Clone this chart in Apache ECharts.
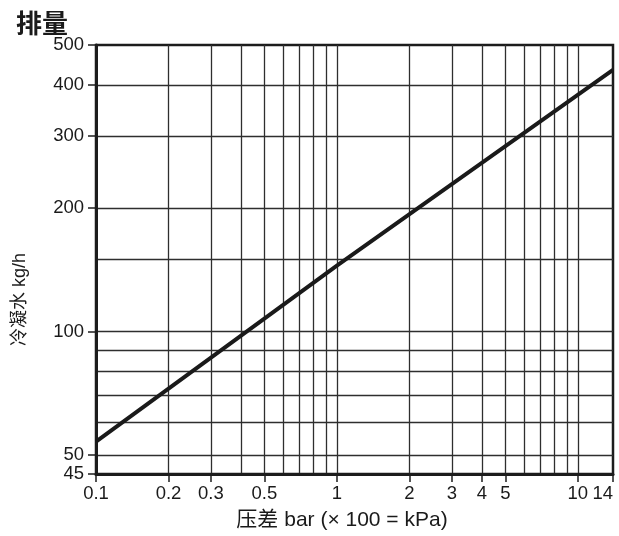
<!DOCTYPE html>
<html>
<head>
<meta charset="utf-8">
<script src="https://cdn.jsdelivr.net/npm/echarts@6/dist/echarts.min.js"></script>
<style>html,body{margin:0;padding:0;background:#fff}#c{width:619px;height:536px}</style>
</head>
<body>
<div id="c"></div>
<script>
// Data
const pressureBar = [0.1, 1, 14];
const condensateKgH = [54, 145, 435];
const xLabelValues = [0.1, 0.2, 0.3, 0.5, 1, 2, 3, 4, 5, 10, 14];
const xGridValues = [0.2, 0.3, 0.4, 0.5, 0.6, 0.7, 0.8, 0.9, 1, 2, 3, 4, 5, 6, 7, 8, 9, 10];
const yLabelValues = [45, 50, 100, 200, 300, 400, 500];
const yGridValues = [50, 60, 70, 80, 90, 100, 150, 200, 300, 400];
const titleText = '排量';
const yName = '冷凝水 kg/h';
const xName = '压差 bar (× 100 = kPa)';

const FONT = '"Liberation Sans", "Noto Sans CJK SC", sans-serif';
const fmt = v => String(+(+v).toPrecision(6));
const chart = echarts.init(document.getElementById('c'), null, {renderer: 'canvas'});
const axisColor = '#1c1c1c';
const gridColor = '#2e2e2e';

chart.setOption({
  animation: false,
  backgroundColor: '#fff',
  title: {
    text: titleText, left: 11, top: 5,
    textStyle: {fontFamily: '"Noto Sans CJK SC", sans-serif', fontSize: 26, fontWeight: 'bold', color: '#1a1a1a'}
  },
  grid: {left: 96, right: 6, top: 45, bottom: 59, show: true, borderColor: axisColor, borderWidth: 2.5},
  xAxis: [{
    type: 'log', logBase: 10, min: 0.1, max: 14, position: 'bottom',
    name: xName, nameLocation: 'middle', nameGap: 36,
    nameTextStyle: {fontFamily: FONT, fontSize: 21, color: '#1a1a1a', padding: [0, 25, 0, 0]},
    axisLine: {show: true, lineStyle: {color: axisColor, width: 3}},
    axisTick: {show: true, customValues: xLabelValues, length: 8, lineStyle: {color: axisColor, width: 1.5}},
    axisLabel: {show: true, customValues: xLabelValues, formatter: fmt, fontFamily: FONT, fontSize: 18.5, color: '#1a1a1a', margin: 11, alignMaxLabel: 'right'},
    splitLine: {show: false}
  }, {
    type: 'log', logBase: 10, min: 0.1, max: 14, position: 'bottom',
    axisLine: {show: false},
    axisTick: {show: false, customValues: xGridValues},
    axisLabel: {show: false},
    splitLine: {show: true, lineStyle: {color: gridColor, width: 1.3}}
  }],
  yAxis: [{
    type: 'log', logBase: 10, min: 45, max: 500, position: 'left',
    name: yName, nameLocation: 'middle', nameGap: 67, nameRotate: 90,
    nameTextStyle: {fontFamily: FONT, fontSize: 18, color: '#1a1a1a', padding: [0, 80, 0, 0]},
    axisLine: {show: true, lineStyle: {color: axisColor, width: 3}},
    axisTick: {show: true, customValues: yLabelValues, length: 8, lineStyle: {color: axisColor, width: 1.5}},
    axisLabel: {show: true, customValues: yLabelValues, formatter: fmt, fontFamily: FONT, fontSize: 18.5, color: '#1a1a1a', margin: 12},
    splitLine: {show: false}
  }, {
    type: 'log', logBase: 10, min: 45, max: 500, position: 'left',
    axisLine: {show: false},
    axisTick: {show: false, customValues: yGridValues},
    axisLabel: {show: false},
    splitLine: {show: true, lineStyle: {color: gridColor, width: 1.3}}
  }],
  series: [{
    type: 'line',
    xAxisIndex: 0, yAxisIndex: 0,
    data: pressureBar.map((x, i) => [x, condensateKgH[i]]),
    showSymbol: false, symbol: 'none',
    lineStyle: {color: '#1a1a1a', width: 4},
    z: 5
  }]
});
</script>
</body>
</html>
